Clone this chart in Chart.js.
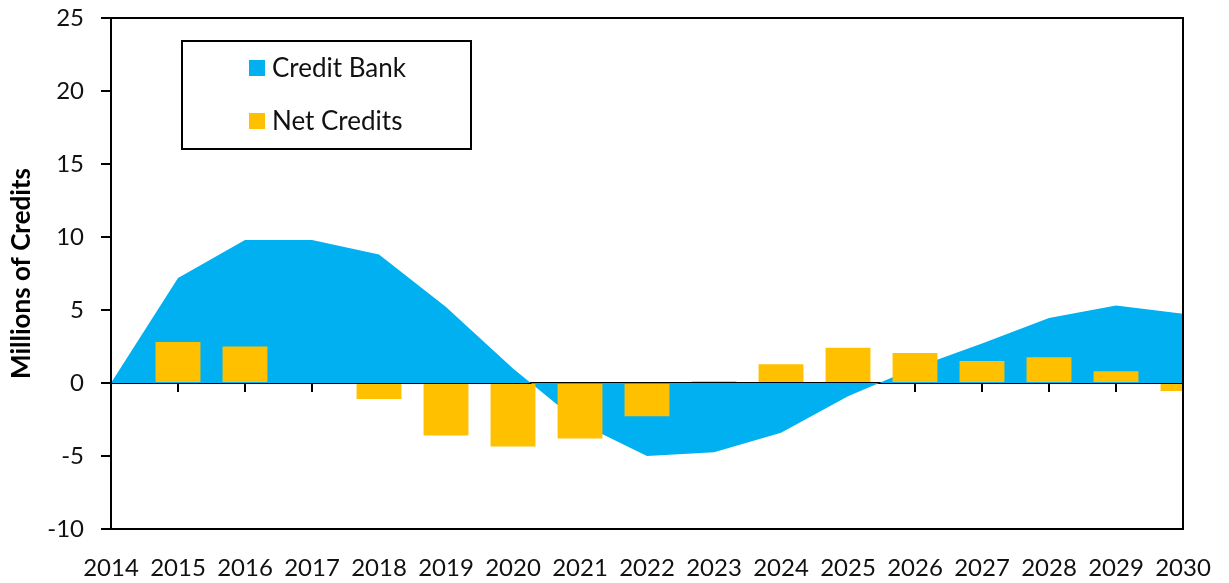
<!DOCTYPE html>
<html>
<head>
<meta charset="utf-8">
<script src="https://cdn.jsdelivr.net/npm/chart.js@4"></script>
<style>
  html, body { margin: 0; padding: 0; background: #fff; }
  #wrap { width: 1229px; height: 583px; }
</style>
</head>
<body>
<div id="wrap"><canvas id="chart" width="1229" height="583"></canvas></div>
<script>
// values
const years = ['2014', '2015', '2016', '2017', '2018', '2019', '2020', '2021', '2022',
               '2023', '2024', '2025', '2026', '2027', '2028', '2029', '2030'];
const creditBank = [0, 7.2, 9.8, 9.8, 8.8, 5.2, 1.0, -2.75, -5.0, -4.75, -3.4, -0.9, 1.05, 2.7, 4.45, 5.3, 4.75];
const netCredits = [0, 2.8, 2.5, 0, -1.1, -3.6, -4.35, -3.8, -2.27, 0.12, 1.28, 2.42, 2.05, 1.5, 1.76, 0.8, -0.54];
const yTicks = { min: -10, max: 25, step: 5 };

const FONT = 'Lato';
const TEXT = '#111';

// box around the plot area, drawn last so it sits on top
const framePlugin = {
    id: 'frame',
    afterDraw(chart) {
        const { ctx, chartArea: a } = chart;
        ctx.save();
        ctx.strokeStyle = '#000';
        ctx.lineWidth = 2;
        ctx.strokeRect(a.left, a.top, a.right - a.left, a.bottom - a.top);
        ctx.restore();
    }
};

// legend in a bordered box inside the plot, like the excel one
const boxLegend = {
    id: 'boxLegend',
    afterDraw(chart) {
        const ctx = chart.ctx;
        ctx.save();
        ctx.strokeStyle = '#000';
        ctx.lineWidth = 2;
        ctx.strokeRect(182, 41, 289, 108);
        ctx.font = '26px ' + FONT;
        ctx.textBaseline = 'middle';
        const rows = [68, 121];
        chart.data.datasets.forEach((ds, i) => {
            const y = rows[i];
            ctx.fillStyle = ds.legendColor;
            ctx.fillRect(249, y - 8, 16, 16);
            ctx.fillStyle = TEXT;
            ctx.fillText(ds.label, 272, y + 1);
        });
        ctx.restore();
    }
};

const ctx = document.getElementById('chart').getContext('2d');
window.myChart = new Chart(ctx, {
    data: {
        labels: years,
        datasets: [
            {
                type: 'line',
                label: 'Credit Bank',
                data: creditBank,
                legendColor: '#00B0F0',
                backgroundColor: '#00B0F0',
                borderColor: 'rgba(0,0,0,0)',
                borderWidth: 0,
                pointRadius: 0,
                tension: 0,
                fill: 'origin',
                order: 2
            },
            {
                type: 'bar',
                label: 'Net Credits',
                data: netCredits,
                legendColor: '#FFC000',
                backgroundColor: '#FFC000',
                borderWidth: 0,
                categoryPercentage: 0.67,
                barPercentage: 1,
                order: 1
            }
        ]
    },
    options: {
        responsive: false,
        animation: false,
        devicePixelRatio: 1,
        layout: { padding: { top: 18, right: 46, left: 0, bottom: 0 } },
        plugins: {
            legend: { display: false },
            tooltip: { enabled: false }
        },
        scales: {
            x: {
                type: 'category',
                position: 'bottom',
                offset: false,
                grid: { display: false, drawTicks: false },
                border: { display: true, color: '#000', width: 2 },
                ticks: {
                    color: TEXT,
                    font: { family: FONT, size: 24 },
                    maxRotation: 0,
                    autoSkip: false,
                    padding: 25
                },
                afterFit(scale) {
                    scale.height = 54;
                    scale.paddingLeft = 0;
                    scale.paddingRight = 0;
                }
            },
            // the zero line with its little tick marks
            xZero: {
                type: 'category',
                position: { y: 0 },
                offset: false,
                z: 1,
                ticks: { display: false },
                grid: { drawOnChartArea: false, drawTicks: true, tickLength: 8, color: '#000', lineWidth: 2 },
                border: { display: true, color: '#000', width: 2 }
            },
            y: {
                min: yTicks.min,
                max: yTicks.max,
                ticks: {
                    stepSize: yTicks.step,
                    color: TEXT,
                    font: { family: FONT, size: 24 },
                    padding: 17
                },
                grid: { drawOnChartArea: false, drawTicks: true, tickLength: 10, color: '#000', lineWidth: 2 },
                border: { display: true, color: '#000', width: 2 },
                title: {
                    display: true,
                    text: 'Millions of Credits',
                    color: '#000',
                    font: { family: FONT, size: 26, weight: 'bold' },
                    padding: { top: 6, bottom: 0 }
                },
                afterFit(scale) {
                    scale.width = 111;
                    scale.paddingTop = 0;
                    scale.paddingBottom = 0;
                }
            }
        }
    },
    plugins: [framePlugin, boxLegend]
});
</script>
</body>
</html>
